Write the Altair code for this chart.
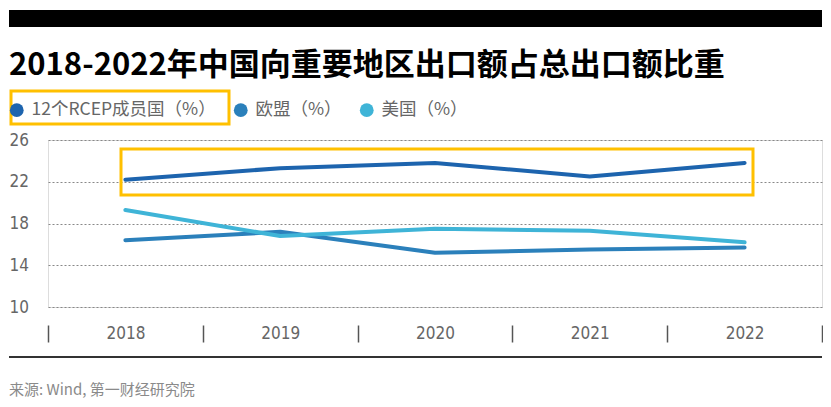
import altair as alt
import pandas as pd

years = ["2018", "2019", "2020", "2021", "2022"]
series_names = ["12个RCEP成员国（%）", "欧盟（%）", "美国（%）"]
rcep = [22.2, 23.3, 23.8, 22.5, 23.8]
eu = [16.4, 17.2, 15.2, 15.5, 15.7]
us = [19.3, 16.8, 17.5, 17.3, 16.2]
y_ticks = [10, 14, 18, 22, 26]
colors = ["#1d64ae", "#2b80bb", "#3fb4d7"]

title_text = "2018-2022年中国向重要地区出口额占总出口额比重"
source_text = "来源: Wind, 第一财经研究院"

rows = []
for name, vals in zip(series_names, [rcep, eu, us]):
    for y, v in zip(years, vals):
        rows.append({"year": y, "series": name, "value": v})
df = pd.DataFrame(rows)

W, H = 774, 167
NUM_FONT = "Liberation Sans Narrow, DejaVu Sans Condensed, Roboto, sans-serif"
CJK_FONT = "Noto Sans CJK SC"

x_enc = alt.X("year:N", sort=years, title=None,
              scale=alt.Scale(paddingInner=0, paddingOuter=0),
              axis=alt.Axis(offset=18, tickBand="extent", tickSize=17, tickColor="#555",
                            tickWidth=1.5, domain=False, grid=False, labelAngle=0,
                            labelBaseline="middle", labelPadding=-8.5, labelFont=NUM_FONT,
                            labelFontSize=17, labelColor="#666"))
y_enc = alt.Y("value:Q", title=None,
              scale=alt.Scale(domain=[10, 26], nice=False, zero=False),
              axis=alt.Axis(values=y_ticks, domain=False, ticks=False, tickSize=0,
                            labelAlign="left", labelPadding=39, labelFont=NUM_FONT,
                            labelFontSize=17, labelColor="#666", grid=True, gridColor="#888",
                            gridDash=[2, 2], gridWidth=1))

lines = alt.Chart(df).mark_line(strokeWidth=4, strokeCap="round", strokeJoin="round").encode(
    x=x_enc, y=y_enc,
    stroke=alt.Stroke("series:N", sort=series_names,
                      scale=alt.Scale(domain=series_names, range=colors), legend=None),
)

# legend-only layer: the filter leaves no visible points, the fill scale drives the legend
legend_pts = alt.Chart(df).transform_filter("datum.value < 0").mark_point(filled=True).encode(
    x=x_enc, y=y_enc,
    fill=alt.Fill("series:N", sort=series_names,
                  scale=alt.Scale(domain=series_names, range=colors),
                  legend=alt.Legend(title=None, orient="none", direction="horizontal",
                                    legendX=-40, legendY=-39, symbolType="circle",
                                    symbolSize=190, symbolStrokeWidth=0,
                                    symbolOpacity=1, labelFont=CJK_FONT,
                                    labelFontSize=17.5, labelColor="#666", labelLimit=400,
                                    labelOffset=6, columnPadding=16)),
)

one = pd.DataFrame({"t": [title_text], "s": [source_text]})

bar = alt.Chart(one).mark_rect(color="black").encode(
    x=alt.value(-39), x2=alt.value(774), y=alt.value(-130), y2=alt.value(-113))

title = alt.Chart(one).mark_text(align="left", baseline="alphabetic", font=CJK_FONT,
                                 fontSize=31, fontWeight="bold", color="black").encode(
    text="t:N", x=alt.value(-39), y=alt.value(-65))

legend_box = alt.Chart(one).mark_rect(fill=None, stroke="#ffc000", strokeWidth=3).encode(
    x=alt.value(-37), x2=alt.value(181), y=alt.value(-49), y2=alt.value(-16))

data_box = alt.Chart(one).mark_rect(fill=None, stroke="#ffc000", strokeWidth=3).encode(
    x=alt.value(73), x2=alt.value(705), y=alt.value(9), y2=alt.value(55))

bottom_rule = alt.Chart(one).mark_rule(color="#333", strokeWidth=2).encode(
    x=alt.value(-39), x2=alt.value(774), y=alt.value(217))

source = alt.Chart(one).mark_text(align="left", baseline="middle", font=CJK_FONT,
                                  fontSize=15, color="#8a8a8a").encode(
    text="s:N", x=alt.value(-39), y=alt.value(250))

chart = alt.layer(bar, title, legend_box, data_box, legend_pts, lines, bottom_rule, source).properties(
    width=W, height=H,
    autosize=alt.AutoSizeParams(type="none"),
    padding={"left": 40, "top": 132, "right": 1, "bottom": 91},
).configure_view(stroke=None).configure(background="white")

chart.save("out.html", embed_options={"renderer": "svg", "actions": False})
